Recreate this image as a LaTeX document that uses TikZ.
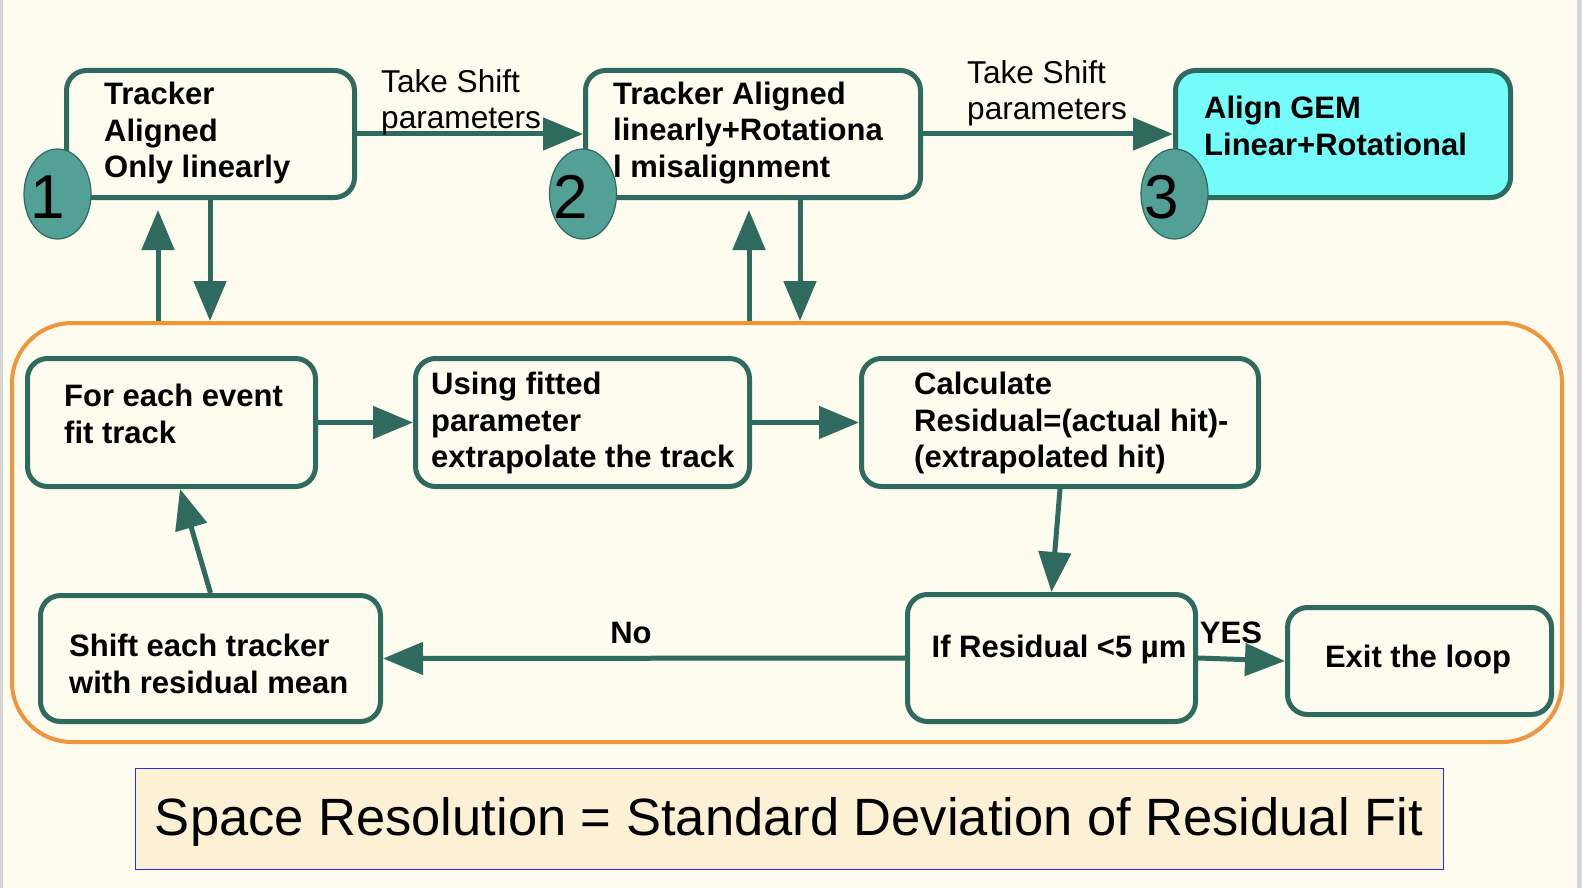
\documentclass[tikz,border=0pt]{standalone}
\usepackage{fontspec}
\setmainfont{Liberation Sans}
\usetikzlibrary{arrows.meta,shapes.geometric,calc}
\definecolor{bg}{HTML}{FEFBEF}
\definecolor{tealline}{HTML}{2E6B5E}
\definecolor{tealfill}{HTML}{52A096}
\definecolor{cyanfill}{HTML}{74FCFB}
\definecolor{orng}{HTML}{F0953B}
\definecolor{bluel}{HTML}{2B2BEB}
\definecolor{resfill}{HTML}{FCF1D4}
\definecolor{edgegray}{HTML}{D6D6D6}
\begin{document}
\begin{tikzpicture}[x=1pt,y=-1pt,
  box/.style={draw=tealline, line width=5pt, rounded corners=20pt, fill=bg, inner sep=0pt},
  circ/.style={ellipse, draw=tealline, line width=1.2pt, fill=tealfill, inner sep=0pt, minimum width=67pt, minimum height=90pt},
  digit/.style={font=\fontsize{62}{62}\selectfont, inner sep=0pt},
  btxt/.style={font=\fontsize{31}{36.3}\selectfont\bfseries, align=left, inner sep=0pt},
  lbl/.style={font=\fontsize{31.6}{36}\selectfont, align=left, inner sep=0pt},
  arr/.style={draw=tealline, line width=5pt, -{Triangle[length=40pt,width=32pt]}}]
\useasboundingbox (0,0) rectangle (1582,888);
\fill[bg] (0,0) rectangle (1582,888);
\fill[edgegray] (0,0) rectangle (3,888);
\fill[edgegray] (1577,0) rectangle (1582,888);

% loop frame
\node[draw=orng, line width=4pt, rounded corners=60pt, minimum width=1550pt, minimum height=419pt, inner sep=0pt] (loop) at (787,532.5) {};

% top boxes
\node[box, minimum width=288pt, minimum height=127pt] (b1) at (210.5,134) {};
\node[box, minimum width=335pt, minimum height=127pt] (b2) at (753,134) {};
\node[box, fill=cyanfill, minimum width=335pt, minimum height=127pt] (b3) at (1343,134) {};
\node[btxt, anchor=west] (t1) at (104,133) {Tracker\\Aligned\\Only linearly};
\node[btxt, anchor=west] (t2) at (613,133) {Tracker Aligned\\linearly+Rotationa\\l misalignment};
\node[btxt, anchor=west] (t3) at (1204,126) {Align GEM\\Linear+Rotational};

\node[circ] (c1) at (57.5,194) {};
\node[circ] (c2) at (583,194) {};
\node[circ] (c3) at (1174.5,194) {};
\node[digit] (n1) at (47.5,197) {1};
\node[digit] (n2) at (571,197) {2};
\node[digit] (n3) at (1162,197) {3};

\draw[arr] (b1.east) -- (b2.west);
\draw[arr] (b2.east) -- (b3.west);
\node[lbl, anchor=west] (ts1) at (381,102) {Take Shift\\parameters};
\node[lbl, anchor=west] (ts2) at (967,93) {Take Shift\\parameters};

% loop boxes
\node[box, minimum width=288pt, minimum height=128pt] (A) at (171.5,422.5) {};
\node[box, minimum width=334pt, minimum height=128pt] (B) at (582.5,422.5) {};
\node[box, minimum width=397pt, minimum height=128pt] (C) at (1060,422.5) {};
\node[box, minimum width=288pt, minimum height=127pt] (D) at (1051.5,658) {};
\node[box, minimum width=264pt, minimum height=107pt] (E) at (1419.5,661) {};
\node[box, minimum width=340pt, minimum height=126pt] (F) at (210.5,658.5) {};

\node[btxt, anchor=west] (tA) at (64,414) {For each event\\fit track};
\node[btxt, anchor=west] (tB) at (431,423) {Using fitted\\parameter\\extrapolate the track};
\node[btxt, anchor=west] (tC) at (914,423) {Calculate\\Residual=(actual hit)-\\(extrapolated hit)};
\node[btxt] (tD) at (1059,649) {If Residual <5 µm};
\node[btxt] (tE) at (1418,659) {Exit the loop};
\node[btxt, anchor=west] (tF) at (69,664) {Shift each tracker\\with residual mean};

% vertical connectors between top boxes and loop
\coordinate (u1) at (158,0);
\coordinate (d1) at (210,0);
\coordinate (u2) at (749,0);
\coordinate (d2) at (800,0);
\coordinate (fa) at (180,0);
\draw[arr] (loop.north -| u1) -- ($(b1.south -| u1)+(0,10)$);
\draw[arr] (b1.south -| d1) -- (loop.north -| d1);
\draw[arr] (loop.north -| u2) -- ($(b2.south -| u2)+(0,10)$);
\draw[arr] (b2.south -| d2) -- (loop.north -| d2);

\draw[arr] (A.east) -- (B.west);
\draw[arr] (B.east) -- (C.west);
\draw[arr] (C.south) -- (D.north);
\draw[arr] (D.east) -- (E.west);
\draw[arr] (D.west) -- (F.east);
\draw[arr] (F.north) -- (A.south -| fa);
\node[btxt] (yes) at (1231,633) {YES};
\node[btxt] (no) at (631,633) {No};

% result box
\node[draw=bluel, line width=1.5pt, fill=resfill, minimum width=1308pt, minimum height=101pt, inner sep=0pt] (res) at (789.5,819) {};
\node[font=\fontsize{52.5}{52.5}\selectfont, inner sep=0pt] (rest) at (789,822) {Space Resolution = Standard Deviation of Residual Fit};
\end{tikzpicture}
\end{document}
